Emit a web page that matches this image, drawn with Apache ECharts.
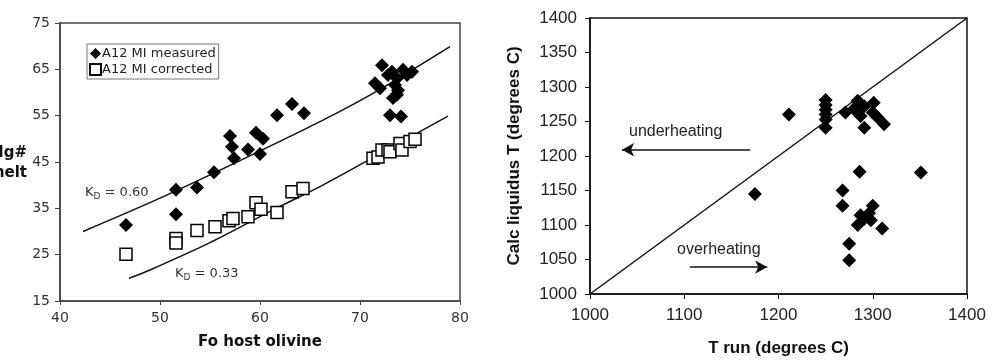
<!DOCTYPE html>
<html>
<head>
<meta charset="utf-8">
<script src="https://cdn.jsdelivr.net/npm/echarts@6/dist/echarts.min.js"></script>
<style>html,body{margin:0;padding:0;background:#fff}#c{width:994px;height:362px}</style>
</head>
<body>
<div id="c"></div>
<script>
// Left panel: Fo host olivine vs Mg# melt
var measured = [
  [46.6,31.4],[51.6,39.0],[51.6,33.7],[53.7,39.5],[55.4,42.8],[57.4,45.8],[57.2,48.3],[57.0,50.6],
  [58.8,47.7],[59.6,51.3],[60.3,50.0],[60.0,46.7],[61.7,55.1],[63.2,57.5],[64.4,55.5],
  [72.2,65.9],[71.5,62.0],[72.0,60.9],[73.2,64.5],[73.7,63.1],[74.3,64.9],[75.2,64.5],[73.5,61.6],
  [73.7,59.5],[73.3,58.8],[73.0,55.1],[74.1,54.8],[72.8,63.8],[74.7,63.8],[73.8,60.5]
];
var corrected = [
  [46.6,25.1],[51.6,28.5],[51.6,27.5],[53.7,30.2],[55.5,31.0],[56.9,32.3],[57.3,32.8],[58.8,33.2],
  [59.6,36.2],[60.1,34.8],[61.7,34.1],[63.2,38.6],[64.3,39.3],
  [71.3,45.8],[71.8,46.1],[72.2,47.6],[72.8,47.6],[73.0,47.2],[74.0,49.0],[74.2,47.6],[75.0,49.4],[75.5,49.9]
];
var kd060 = [[42.3,30.0],[50,37.2],[58,45.3],[66,53.7],[71.3,59.8],[79,69.9]];
var kd033 = [[46.9,19.9],[49,21.7],[55,27.6],[61.7,35.1],[66,39.7],[72,46.8],[78.8,54.9]];
var leftXTicks = {min:40, max:80, interval:10};
var leftYTicks = {min:15, max:75, interval:10};

// Right panel: T run vs calc liquidus T
var runs = [
  [1175,1145],[1211,1260],
  [1250,1281],[1250,1274],[1250,1267],[1250,1260],[1250,1253],[1250,1241],
  [1271,1263],[1284,1280],[1280,1268],[1291,1272],[1301,1277],[1300,1263],[1287,1258],
  [1291,1241],[1312,1246],[1305,1256],
  [1286,1177],[1351,1176],
  [1268,1150],[1268,1128],[1300,1128],[1296,1117],[1291,1109],[1284,1100],[1298,1107],
  [1287,1114],[1310,1095],[1275,1073],[1275,1049]
];
var oneToOne = [[1000,1000],[1400,1400]];
var underArrow = [[1170,1209],[1034,1209]];
var overArrow = [[1106,1039],[1188,1039]];
var rightTicks = {min:1000, max:1400, interval:100};
var rightYTicks = {min:1000, max:1400, interval:50};

var chart = echarts.init(document.getElementById('c'), null, {renderer:'canvas'});
var leftFont = 'DejaVu Sans';
var rightFont = 'Liberation Sans';
var plain = function (v) { return String(v); };

chart.setOption({
  animation:false,
  backgroundColor:'#fff',
  grid:[
    {left:60, top:23, width:400, height:278, show:true, borderColor:'#444', borderWidth:1.5, backgroundColor:'transparent'},
    {left:590, top:18, width:377, height:278, show:true, borderColor:'#111', borderWidth:1.5, backgroundColor:'transparent'}
  ],
  legend:{
    left:87, top:44, orient:'vertical', itemGap:3, itemWidth:11, itemHeight:11,
    padding:[3,3,3,2], borderColor:'#777', borderWidth:1, backgroundColor:'#fff',
    textStyle:{fontFamily:leftFont, fontSize:13, color:'#222', padding:[0,0,0,-4]},
    data:[{name:'A12 MI measured', icon:'diamond'},{name:'A12 MI corrected', icon:'rect'}]
  },
  xAxis:[
    {gridIndex:0, type:'value', min:leftXTicks.min, max:leftXTicks.max, interval:leftXTicks.interval,
     name:'Fo host olivine', nameLocation:'middle', nameGap:34,
     nameTextStyle:{fontFamily:leftFont, fontWeight:'bold', fontSize:15, color:'#111'},
     axisLine:{lineStyle:{color:'#444', width:1.5}}, axisTick:{show:true, length:4, lineStyle:{color:'#444'}},
     axisLabel:{fontFamily:leftFont, fontSize:14, color:'#333', margin:10, formatter:plain}, splitLine:{show:false}},
    {gridIndex:1, type:'value', min:rightTicks.min, max:rightTicks.max, interval:rightTicks.interval,
     name:'T run (degrees C)', nameLocation:'middle', nameGap:46,
     nameTextStyle:{fontFamily:rightFont, fontWeight:'bold', fontSize:17, color:'#111'},
     axisLine:{lineStyle:{color:'#111', width:1.5}}, axisTick:{show:true, length:5, lineStyle:{color:'#111'}},
     axisLabel:{fontFamily:rightFont, fontSize:17, color:'#222', margin:13, formatter:plain}, splitLine:{show:false}}
  ],
  yAxis:[
    {gridIndex:0, type:'value', min:leftYTicks.min, max:leftYTicks.max, interval:leftYTicks.interval,
     axisLine:{lineStyle:{color:'#444', width:1.5}}, axisTick:{show:true, length:5, lineStyle:{color:'#444'}},
     axisLabel:{fontFamily:leftFont, fontSize:14, color:'#333', margin:10, formatter:plain}, splitLine:{show:false}},
    {gridIndex:1, type:'value', min:rightYTicks.min, max:rightYTicks.max, interval:rightYTicks.interval,
     name:'Calc liquidus T (degrees C)', nameLocation:'middle', nameGap:67,
     nameTextStyle:{fontFamily:rightFont, fontWeight:'bold', fontSize:17, color:'#111'},
     axisLine:{lineStyle:{color:'#111', width:1.5}}, axisTick:{show:true, length:5, lineStyle:{color:'#111'}},
     axisLabel:{fontFamily:rightFont, fontSize:17, color:'#222', margin:13, formatter:plain}, splitLine:{show:false}}
  ],
  series:[
    {name:'Kd 0.60', type:'line', xAxisIndex:0, yAxisIndex:0, data:kd060, smooth:0.3, showSymbol:false, symbol:'none',
     lineStyle:{color:'#111', width:1.5}, silent:true, z:1},
    {name:'Kd 0.33', type:'line', xAxisIndex:0, yAxisIndex:0, data:kd033, smooth:0.3, showSymbol:false, symbol:'none',
     lineStyle:{color:'#111', width:1.5}, silent:true, z:1},
    {name:'A12 MI measured', type:'scatter', xAxisIndex:0, yAxisIndex:0, data:measured, symbol:'diamond', symbolSize:14,
     itemStyle:{color:'#000', opacity:1}, z:3},
    {name:'A12 MI corrected', type:'scatter', xAxisIndex:0, yAxisIndex:0, data:corrected, symbol:'rect', symbolSize:12,
     itemStyle:{color:'#fff', borderColor:'#000', borderWidth:1.5, opacity:1}, z:3},
    {name:'1:1', type:'line', xAxisIndex:1, yAxisIndex:1, data:oneToOne, showSymbol:false, symbol:'none',
     lineStyle:{color:'#111', width:1.5}, silent:true, z:1},
    {name:'under', type:'line', xAxisIndex:1, yAxisIndex:1, data:underArrow, showSymbol:false, symbol:'none',
     lineStyle:{width:0}, silent:true,
     markLine:{silent:true, symbol:['none','arrow'], symbolSize:[10,12], label:{show:false},
       lineStyle:{color:'#111', width:1.5, type:'solid'},
       data:[[{coord:underArrow[0]},{coord:underArrow[1]}]]}},
    {name:'over', type:'line', xAxisIndex:1, yAxisIndex:1, data:overArrow, showSymbol:false, symbol:'none',
     lineStyle:{width:0}, silent:true,
     markLine:{silent:true, symbol:['none','arrow'], symbolSize:[10,12], label:{show:false},
       lineStyle:{color:'#111', width:1.5, type:'solid'},
       data:[[{coord:overArrow[0]},{coord:overArrow[1]}]]}},
    {name:'T liquidus', type:'scatter', xAxisIndex:1, yAxisIndex:1, data:runs, symbol:'diamond', symbolSize:14,
     itemStyle:{color:'#000', opacity:1}, z:3}
  ],
  graphic:[
    {type:'text', x:27, y:153, style:{text:'Mg#', font:'bold 15px "DejaVu Sans"', fill:'#111', textAlign:'right', textVerticalAlign:'middle'}},
    {type:'text', x:27, y:173, style:{text:'melt', font:'bold 15px "DejaVu Sans"', fill:'#111', textAlign:'right', textVerticalAlign:'middle'}},
    {type:'text', x:85, y:193, style:{
      text:'K{s|D} = 0.60', textVerticalAlign:'middle', fill:'#333',
      rich:{s:{fontFamily:leftFont, fontSize:9, fill:'#333', padding:[8,0,0,0]}},
      font:'13px "DejaVu Sans"'}},
    {type:'text', x:175, y:274, style:{
      text:'K{s|D} = 0.33', textVerticalAlign:'middle', fill:'#333',
      rich:{s:{fontFamily:leftFont, fontSize:9, fill:'#333', padding:[8,0,0,0]}},
      font:'13px "DejaVu Sans"'}},
    {type:'text', x:629, y:132, style:{text:'underheating', font:'16px "Liberation Sans"', fill:'#222', textVerticalAlign:'middle'}},
    {type:'text', x:677, y:250, style:{text:'overheating', font:'16px "Liberation Sans"', fill:'#222', textVerticalAlign:'middle'}}
  ]
});
</script>
</body>
</html>
